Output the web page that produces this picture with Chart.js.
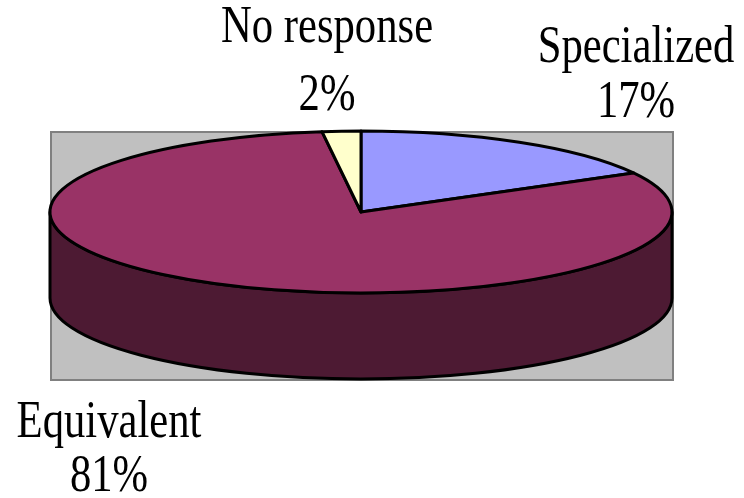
<!DOCTYPE html>
<html>
<head>
<meta charset="utf-8">
<script src="https://cdn.jsdelivr.net/npm/chart.js@4.4.1/dist/chart.umd.min.js"></script>
<style>
  html, body { margin: 0; padding: 0; background: #ffffff; }
  #wrap { width: 744px; height: 498px; position: relative; }
</style>
</head>
<body>
<div id="wrap"><canvas id="chart" width="744" height="498"></canvas></div>
<script>
// data
const categories = ['Specialized', 'Equivalent', 'No response'];
const shares = [17, 81, 2];
const topColors = ['#9999FF', '#993366', '#FFFFCC'];
const sideColors = ['#4D4D80', '#4D1A33', '#808066'];

// 3D look of the Excel pie (screen px)
const plotBox = { left: 51, top: 132, right: 673, bottom: 380 };
const pie3d = { cx: 361, cy: 212, rx: 311, ry: 81, depth: 86 };

// label anchors: [centre x, baseline of name, baseline of percent]
const labelPos = [
  [636, 62, 117],
  [109, 437, 491],
  [327, 42, 110]
];

function slicePath(ctx, s, e, dy) {
  const { cx, cy, rx, ry } = pie3d;
  ctx.beginPath();
  ctx.moveTo(cx, cy + dy);
  ctx.ellipse(cx, cy + dy, rx, ry, 0, s, e, false);
  ctx.closePath();
}

// Excel stretched the text vertically when the chart was resized
function tallText(ctx, text, x, y) {
  ctx.save();
  ctx.translate(x, y);
  ctx.scale(0.97, 1.2);
  ctx.fillText(text, 0, 0);
  ctx.restore();
}

const pie3dPlugin = {
  id: 'pie3d',
  beforeDraw(chart) {
    const ctx = chart.ctx;
    ctx.save();
    ctx.fillStyle = '#ffffff';
    ctx.fillRect(0, 0, chart.width, chart.height);
    ctx.fillStyle = '#C0C0C0';
    ctx.strokeStyle = '#808080';
    ctx.lineWidth = 2;
    ctx.fillRect(plotBox.left, plotBox.top, plotBox.right - plotBox.left, plotBox.bottom - plotBox.top);
    ctx.strokeRect(plotBox.left, plotBox.top, plotBox.right - plotBox.left, plotBox.bottom - plotBox.top);
    ctx.restore();
  },
  beforeDatasetsDraw(chart) {
    const ctx = chart.ctx;
    const arcs = chart.getDatasetMeta(0).data;
    const { cx, cy, rx, ry, depth } = pie3d;
    ctx.save();
    ctx.lineWidth = 3;
    ctx.lineJoin = 'round';
    ctx.strokeStyle = '#000000';

    // side wall: only the front half (0..PI) is visible
    arcs.forEach((arc, i) => {
      const s = arc.startAngle, e = arc.endAngle;
      [-2 * Math.PI, 0, 2 * Math.PI].forEach(k => {
        const a1 = Math.max(s, k), a2 = Math.min(e, k + Math.PI);
        if (a2 <= a1) return;
        ctx.beginPath();
        ctx.ellipse(cx, cy, rx, ry, 0, a1, a2, false);
        ctx.lineTo(cx + rx * Math.cos(a2), cy + depth + ry * Math.sin(a2));
        ctx.ellipse(cx, cy + depth, rx, ry, 0, a2, a1, true);
        ctx.closePath();
        ctx.fillStyle = sideColors[i];
        ctx.fill();
        ctx.stroke();
      });
    });

    // top face
    arcs.forEach((arc, i) => {
      slicePath(ctx, arc.startAngle, arc.endAngle, 0);
      ctx.fillStyle = topColors[i];
      ctx.fill();
      ctx.stroke();
    });
    ctx.restore();
    return false;
  },
  afterDraw(chart) {
    const ctx = chart.ctx;
    const total = shares.reduce((a, b) => a + b, 0);
    ctx.save();
    ctx.fillStyle = '#000000';
    ctx.textAlign = 'center';
    ctx.textBaseline = 'alphabetic';
    ctx.font = '44px "Liberation Serif", "Times New Roman", serif';
    categories.forEach((name, i) => {
      const [x, y1, y2] = labelPos[i];
      tallText(ctx, name, x, y1);
      tallText(ctx, Math.round(shares[i] / total * 100) + '%', x, y2);
    });
    ctx.restore();
  }
};

new Chart(document.getElementById('chart'), {
  type: 'pie',
  data: {
    labels: categories,
    datasets: [{
      data: shares,
      backgroundColor: topColors,
      borderColor: '#000000'
    }]
  },
  options: {
    responsive: false,
    animation: false,
    plugins: {
      legend: { display: false },
      tooltip: { enabled: false }
    }
  },
  plugins: [pie3dPlugin]
});
</script>
</body>
</html>
